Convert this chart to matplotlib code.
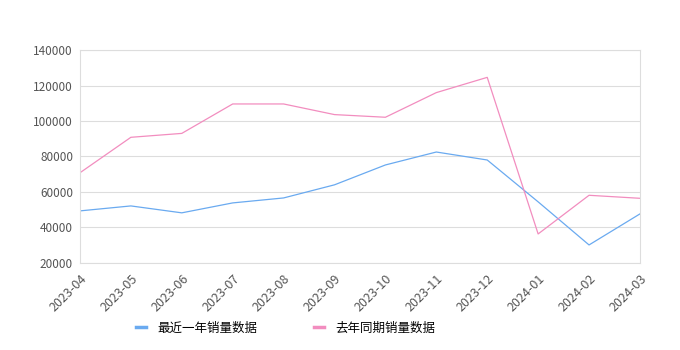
import matplotlib

matplotlib.use("Agg")
import matplotlib.pyplot as plt

plt.rcParams["font.family"] = ["Noto Sans CJK SC", "DejaVu Sans"]

MONTHS = [
    "2023-04", "2023-05", "2023-06", "2023-07", "2023-08", "2023-09",
    "2023-10", "2023-11", "2023-12", "2024-01", "2024-02", "2024-03",
]
RECENT = [49300, 52100, 48200, 53800, 56600, 64000, 75200, 82500, 78000, 54400, 30100, 47600]
LAST_YEAR = [70800, 90800, 93000, 109600, 109600, 103600, 102100, 116000, 124600, 36300, 58100, 56400]
Y_TICKS = [20000, 40000, 60000, 80000, 100000, 120000, 140000]

BLUE = "#6aaaf0"
PINK = "#f28dbf"
GRID = "#dddddd"


def main() -> None:
    fig = plt.figure(figsize=(6.8, 3.5), dpi=100)
    ax = fig.add_axes([0.1176, 0.249, 0.8235, 0.608])

    x = list(range(len(MONTHS)))
    ax.plot(x, RECENT, color=BLUE, linewidth=0.9, label="最近一年销量数据")
    ax.plot(x, LAST_YEAR, color=PINK, linewidth=0.9, label="去年同期销量数据")

    ax.set_xlim(0, len(MONTHS) - 1)
    ax.set_ylim(20000, 140000)
    ax.set_yticks(Y_TICKS)
    ax.set_yticklabels([str(v) for v in Y_TICKS])
    ax.set_xticks(x)
    ax.set_xticklabels(MONTHS, rotation=45, ha="right", rotation_mode="anchor")
    ax.tick_params(axis="y", length=0, labelsize=8.5, colors="#555555", pad=5)
    ax.tick_params(axis="x", length=0, labelsize=9, colors="#555555", pad=7)

    ax.grid(axis="y", color=GRID, linewidth=0.8)
    ax.set_axisbelow(True)
    for spine in ax.spines.values():
        spine.set_color(GRID)
        spine.set_linewidth(0.8)

    handles, labels = ax.get_legend_handles_labels()
    leg = fig.legend(
        handles, labels, loc="center", bbox_to_anchor=(0.42, 0.063), ncol=2,
        frameon=False, fontsize=9, handlelength=0.8, columnspacing=4.5, handletextpad=0.9,
    )
    for line in leg.get_lines():
        line.set_linewidth(2.5)

    fig.savefig("out.png", dpi=100)
    plt.close(fig)


if __name__ == "__main__":
    main()
